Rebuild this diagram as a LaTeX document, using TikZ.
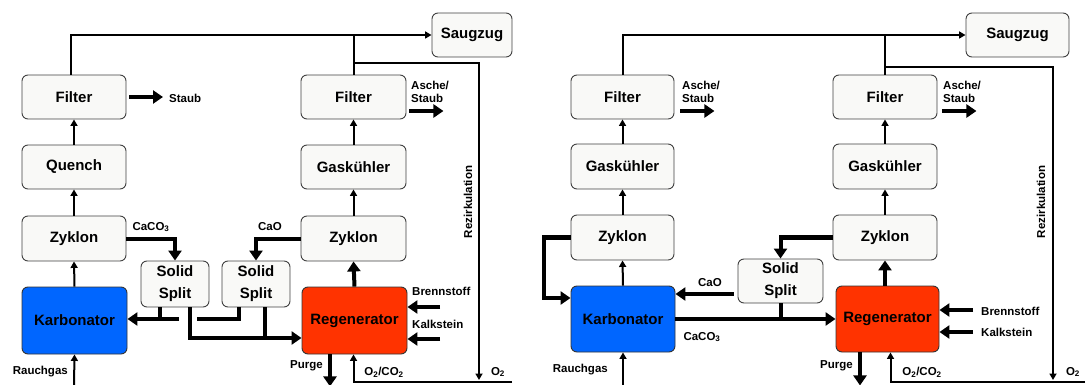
\documentclass[tikz,border=0pt]{standalone}
\usepackage{fontspec}
\setmainfont{Liberation Sans}
\usetikzlibrary{arrows.meta,calc}
\definecolor{boxfill}{HTML}{F9F9F7}
\definecolor{boxdraw}{HTML}{404040}
\definecolor{karbo}{HTML}{0066FF}
\definecolor{regen}{HTML}{FF3300}
\begin{document}
\begin{tikzpicture}[x=1pt,y=-1pt,
  box/.style={draw=boxdraw, line width=0.9pt, rounded corners=6pt, fill=boxfill,
    minimum width=104pt, minimum height=44pt, inner sep=0pt, align=center,
    font=\bfseries\fontsize{15}{22}\selectfont},
  thinln/.style={line width=2pt},
  thinarr/.style={line width=2pt, -{Triangle[length=6.5pt,width=7pt]}},
  thickln/.style={line width=4pt},
  thickarr/.style={line width=4pt, -{Triangle[length=10pt,width=13pt]}},
  lbl/.style={font=\bfseries\fontsize{11.5}{13}\selectfont, inner sep=0pt, align=left},
]
\useasboundingbox (0,0) rectangle (1088,385);

% ---------------- left diagram ----------------
\node[box] (fL1) at (74,97) {Filter};
\node[box] (qL) at (74,167) {Quench};
\node[box, minimum height=45pt] (zL1) at (74,238.5) {Zyklon};
\node[box, fill=karbo, draw=black!80, minimum width=105pt, minimum height=67pt] (kL) at (74.5,320.5) {Karbonator};
\node[box, minimum width=80pt] (sz1) at (472,35) {Saugzug};
\node[box, minimum width=105pt] (fL2) at (353.5,97) {Filter};
\node[box, minimum width=105pt] (gL) at (353.5,167) {Gaskühler};
\node[box, minimum width=105pt, minimum height=45pt] (zL2) at (353.5,238.5) {Zyklon};
\node[box, fill=regen, draw=black!80, minimum width=105pt, minimum height=67pt] (rL) at (354.5,320.5) {Regenerator};
\node[box, minimum width=68pt, minimum height=46pt] (ss1) at (175,284) {Solid\\Split};
\node[box, minimum width=68pt, minimum height=46pt] (ss2) at (256,284) {Solid\\Split};

\coordinate (staubL) at (163,97);
\coordinate (rgL) at (74,385);
\coordinate (c179) at (179,319);
\coordinate (c197) at (197,319);
\coordinate (recTopL) at (479,63);
\coordinate (o2L) at (479,380);
\coordinate (bsL) at (440,307);
\coordinate (ksL) at (440,339);
\coordinate (o2endL) at (512,382);

\draw[thinarr] (kL.north) -- (zL1.south);
\draw[thinarr] (zL1.north) -- (qL.south);
\draw[thinarr] (qL.north) -- (fL1.south);
\draw[thinarr] ([xshift=-3pt]fL1.north) |- (sz1.west);
\draw[thickarr] ([xshift=3pt]fL1.east) -- (staubL);
\draw[thinarr] (rgL) -- (kL.south);
\draw[thickarr] (zL1.east) -| (ss1.north);
\draw[thickarr] (zL2.west) -| (ss2.north);
\draw[thickln] ([xshift=-15pt]ss1.south) |- (c179);
\draw[thickarr] (c179) -- (kL.east |- c179);
\draw[thickln] ([xshift=-17pt]ss2.south) |- (c197);
\draw[thickarr] ([xshift=15pt]ss1.south) |- ([yshift=-17.5pt]rL.west);
\draw[thickln] ([xshift=9pt]ss2.south) -- ++(0,33);
\draw[thickarr] (rL.north) -- (zL2.south);
\draw[thinarr] (zL2.north) -- (gL.south);
\draw[thinarr] (gL.north) -- (fL2.south);
\draw[thinln] (fL2.north) -- (fL2.north |- sz1.west);
\draw[thinarr] (fL2.north |- recTopL) -| (o2L);
\draw[thickarr] ([shift={(3pt,-14pt)}]fL2.east) -- ++(34,0);
\draw[thickarr] (bsL) -- (rL.east |- bsL);
\draw[thickarr] (ksL) -- (rL.east |- ksL);
\draw[thickarr] ([xshift=-24.5pt]rL.south) -- ++(0,32);
\draw[thinarr] (o2endL) -| ([xshift=-1pt]rL.south);

\node[lbl, anchor=west] (tStaubL) at (169,98) {Staub};
\node[lbl, anchor=east] (tRgL) at (68,372) {Rauchgas};
\node[lbl] (tCaco3L) at (151,227) {CaCO\textsubscript{3}};
\node[lbl] (tCaoL) at (270,227) {CaO};
\node[lbl, anchor=west] (tAscheL) at (411,92) {Asche/\\Staub};
\node[lbl, anchor=west] (tBsL) at (412,291) {Brennstoff};
\node[lbl, anchor=west] (tKsL) at (412,324) {Kalkstein};
\node[lbl, anchor=east] (tPurgeL) at (323,366) {Purge};
\node[lbl] (tO2co2L) at (384,372) {O\textsubscript{2}/CO\textsubscript{2}};
\node[lbl] (tO2L) at (498,372) {O\textsubscript{2}};
\node[lbl, rotate=90] (tRezL) at (468,202) {Rezirkulation};

% ---------------- right diagram ----------------
\node[box, minimum width=103pt] (fR1) at (622.5,97) {Filter};
\node[box, minimum width=103pt, minimum height=45pt] (gR1) at (622.5,166.5) {Gaskühler};
\node[box, minimum width=103pt, minimum height=45pt] (zR1) at (622.5,237.5) {Zyklon};
\node[box, fill=karbo, draw=black!80, minimum height=66pt] (kR) at (623,319) {Karbonator};
\node[box, minimum width=85pt] (ssR) at (780.5,281) {Solid\\Split};
\node[box, minimum height=45pt] (zR2) at (885,237.5) {Zyklon};
\node[box, minimum height=45pt] (gR2) at (885,166.5) {Gaskühler};
\node[box] (fR2) at (885,97) {Filter};
\node[box, fill=regen, draw=black!80, minimum width=103pt, minimum height=66pt] (rR) at (887.5,319) {Regenerator};
\node[box, minimum width=103pt] (sz2) at (1017.5,35) {Saugzug};

\coordinate (rgR) at (623,385);
\coordinate (recTopR) at (1053,67);
\coordinate (o2R) at (1053,380);
\coordinate (bsR) at (973,310);
\coordinate (ksR) at (973,332);
\coordinate (o2endR) at (1085,382);
\coordinate (caoR) at ([shift={(-4pt,-13pt)}]ssR.west);

\draw[thinarr] (rgR) -- (kR.south);
\draw[thinarr] (kR.north) -- (zR1.south);
\draw[thinarr] (zR1.north) -- (gR1.south);
\draw[thinarr] (gR1.north) -- (fR1.south);
\draw[thinarr] (fR1.north) |- (sz2.west);
\draw[thickarr] ([shift={(6pt,-14pt)}]fR1.east) -- ++(34,0);
\draw[thickarr] (zR1.west) -- ++(-27,0) |- ([yshift=21pt]kR.west);
\draw[thickarr] (caoR) -- (kR.east |- caoR);
\draw[thickarr] (zR2.west) -| (ssR.north);
\draw[thickarr] (kR.east) -- (rR.west);
\draw[thickln] (ssR.south) -- (ssR.south |- kR.east);
\draw[thickarr] (rR.north -| zR2.south) -- (zR2.south);
\draw[thinarr] (zR2.north) -- (gR2.south);
\draw[thinarr] (gR2.north) -- (fR2.south);
\draw[thinln] (fR2.north) -- (fR2.north |- sz2.west);
\draw[thinarr] (fR2.north |- recTopR) -| (o2R);
\draw[thickarr] ([shift={(5pt,-14pt)}]fR2.east) -- ++(34,0);
\draw[thickarr] (bsR) -- (rR.east |- bsR);
\draw[thickarr] (ksR) -- (rR.east |- ksR);
\draw[thickarr] ([xshift=-27.5pt]rR.south) -- ++(0,33);
\draw[thinarr] (o2endR) -| ([xshift=3pt]rR.south);

\node[lbl, anchor=west] (tAscheR1) at (682,92) {Asche/\\Staub};
\node[lbl, anchor=east] (tRgR) at (608,370) {Rauchgas};
\node[lbl] (tCaoR) at (710,283) {CaO};
\node[lbl] (tCaco3R) at (702,337) {CaCO\textsubscript{3}};
\node[lbl, anchor=west] (tAscheR2) at (943,92) {Asche/\\Staub};
\node[lbl, anchor=west] (tBsR) at (981,311) {Brennstoff};
\node[lbl, anchor=west] (tKsR) at (981,332) {Kalkstein};
\node[lbl, anchor=east] (tPurgeR) at (853,366) {Purge};
\node[lbl] (tO2co2R) at (922,372) {O\textsubscript{2}/CO\textsubscript{2}};
\node[lbl] (tO2R) at (1073,372) {O\textsubscript{2}};
\node[lbl, rotate=90] (tRezR) at (1041,202) {Rezirkulation};
\end{tikzpicture}
\end{document}
